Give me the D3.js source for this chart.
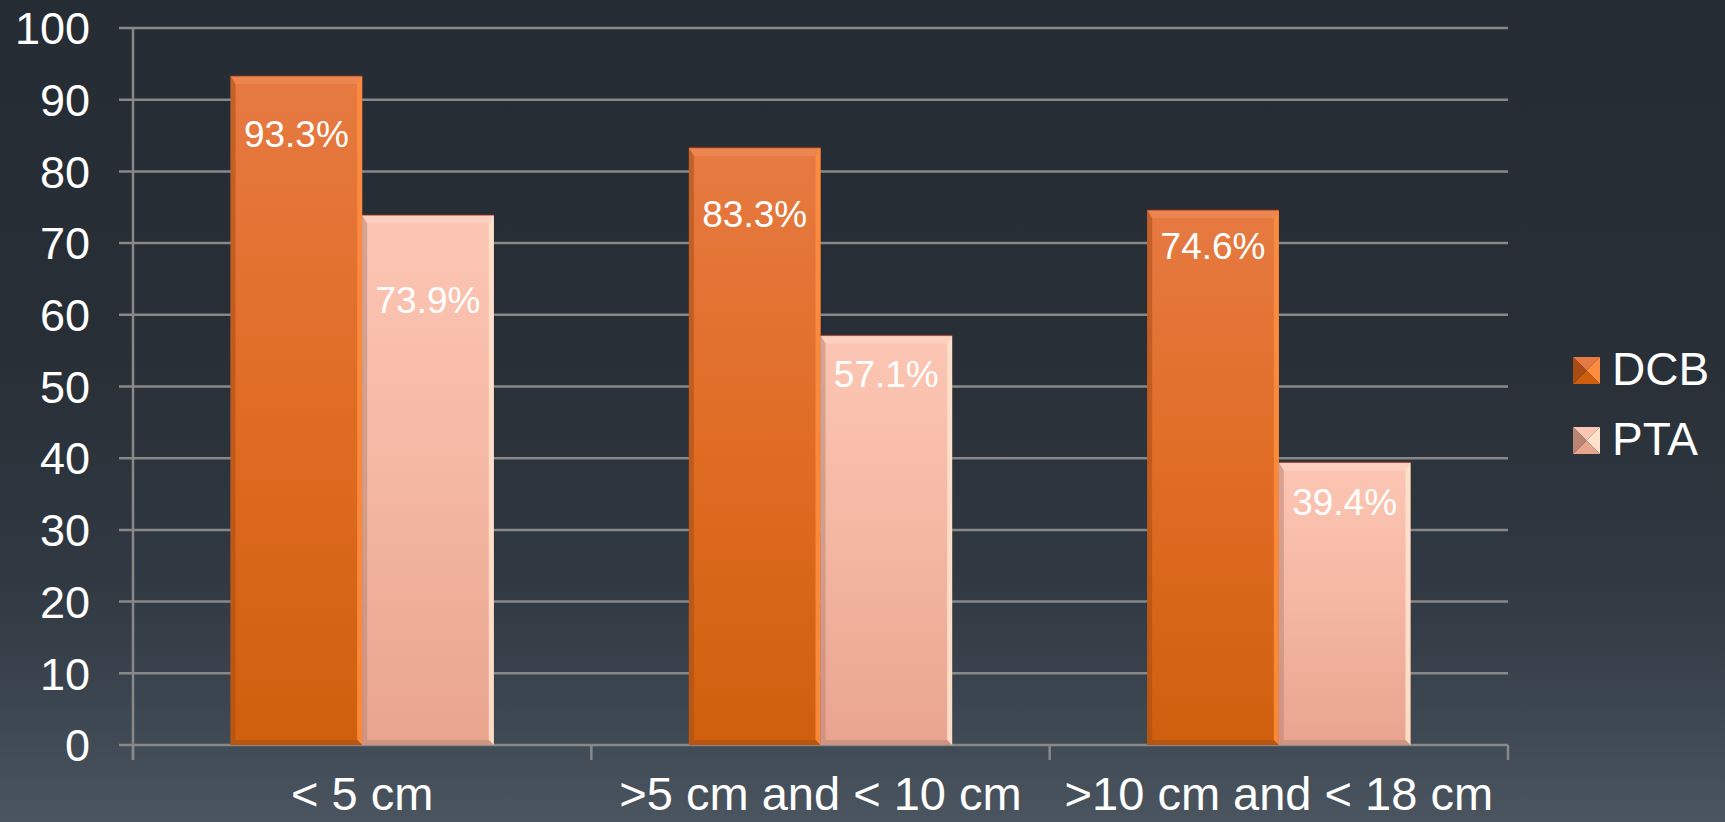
<!DOCTYPE html>
<html>
<head>
<meta charset="utf-8">
<script src="https://cdn.jsdelivr.net/npm/d3@7/dist/d3.min.js"></script>
<style>
  html, body { margin: 0; padding: 0; background: #262c34; }
  svg { display: block; }
  text { font-family: "Liberation Sans", Arial, sans-serif; fill: #ffffff; }
</style>
</head>
<body>
<svg id="chart" width="1725" height="822"></svg>
<script>
// ---- data ----
const categories = ["< 5 cm", ">5 cm and < 10 cm", ">10 cm and < 18 cm"];
const seriesNames = ["DCB", "PTA"];
const dcbValues = [93.3, 83.3, 74.6];
const ptaValues = [73.9, 57.1, 39.4];
const yTicks = [0, 10, 20, 30, 40, 50, 60, 70, 80, 90, 100];

// ---- layout ----
const W = 1725, H = 822;
const plot = { left: 133, right: 1508, top: 28, bottom: 745 };
// distance from bar top to label baseline, per series then category
const labelDrop = { DCB: [71, 79, 49], PTA: [98, 51, 52] };

const palette = {
  DCB: { top: "#e67a42", mid: "#e06c24", bottom: "#cf5f0c", light: "#ff8d3e", dark: "#a84c16", cap: "#ee8a55" },
  PTA: { top: "#fcc6b4", mid: "#f4b7a2", bottom: "#e9a48e", light: "#ffe2cc", dark: "#b98676", cap: "#fdd2c2" }
};

const rows = categories.map((c, i) => ({
  category: c,
  values: [
    { series: "DCB", value: dcbValues[i], idx: i },
    { series: "PTA", value: ptaValues[i], idx: i }
  ]
}));

const svg = d3.select("#chart");
const defs = svg.append("defs");

// background wash
const bg = defs.append("linearGradient").attr("id", "bg").attr("x1", 0).attr("y1", 0).attr("x2", 0).attr("y2", 1);
[[0, "#262c34"], [0.4, "#272e36"], [0.7, "#303841"], [0.88, "#3e4852"], [1, "#4b5560"]]
  .forEach(([o, c]) => bg.append("stop").attr("offset", o).attr("stop-color", c));
svg.append("rect").attr("width", W).attr("height", H).attr("fill", "url(#bg)");

// bar fills
seriesNames.forEach(s => {
  const p = palette[s];
  const g = defs.append("linearGradient").attr("id", "fill-" + s).attr("x1", 0).attr("y1", 0).attr("x2", 0).attr("y2", 1);
  g.append("stop").attr("offset", 0).attr("stop-color", p.top);
  g.append("stop").attr("offset", 0.5).attr("stop-color", p.mid);
  g.append("stop").attr("offset", 1).attr("stop-color", p.bottom);
});

// ---- scales ----
const x0 = d3.scaleBand().domain(categories).range([plot.left, plot.right]).padding(0);
const x1 = d3.scaleBand().domain(seriesNames).range([0, x0.bandwidth()]).paddingInner(0).paddingOuter(0.741);
const y = d3.scaleLinear().domain([0, 100]).range([plot.bottom, plot.top]);

const lineColor = "#888888";
const lineW = 2.5;

// gridlines + y ticks
const grid = svg.append("g");
grid.selectAll("line").data(yTicks).join("line")
  .attr("x1", plot.left - 14).attr("x2", plot.right)
  .attr("y1", d => y(d)).attr("y2", d => y(d))
  .attr("stroke", lineColor).attr("stroke-width", lineW);

svg.append("g").selectAll("text").data(yTicks).join("text")
  .attr("x", 90).attr("y", d => y(d)).attr("dy", "0.36em")
  .attr("text-anchor", "end").style("font-size", "45px")
  .text(d => d);

// y axis line (runs down to tick depth)
svg.append("line")
  .attr("x1", plot.left).attr("x2", plot.left)
  .attr("y1", plot.top).attr("y2", plot.bottom + 15)
  .attr("stroke", lineColor).attr("stroke-width", lineW);

// x category ticks
const xEdges = categories.map(c => x0(c)).concat([x0(categories[categories.length - 1]) + x0.bandwidth()]);
svg.append("g").selectAll("line").data(xEdges).join("line")
  .attr("x1", d => d).attr("x2", d => d)
  .attr("y1", plot.bottom).attr("y2", plot.bottom + 15)
  .attr("stroke", lineColor).attr("stroke-width", lineW);

// ---- bars ----
const groups = svg.append("g").selectAll("g").data(rows).join("g")
  .attr("transform", d => `translate(${x0(d.category)},0)`);

const bars = groups.selectAll("g.bar").data(d => d.values).join("g").attr("class", "bar");

bars.each(function (d) {
  const g = d3.select(this);
  const p = palette[d.series];
  const bx = x1(d.series), bw = x1.bandwidth();
  const top = y(d.value), h = y(0) - top;
  const e = 5;
  g.append("rect").attr("x", bx).attr("y", top).attr("width", bw).attr("height", h).attr("fill", `url(#fill-${d.series})`);
  // top cap
  g.append("path")
    .attr("d", `M${bx},${top} L${bx + bw},${top} L${bx + bw - e},${top + e + 3} L${bx + e},${top + e + 3} Z`)
    .attr("fill", p.cap).attr("opacity", 0.8);
  // right bevel
  g.append("path")
    .attr("d", `M${bx + bw},${top} L${bx + bw},${top + h} L${bx + bw - e},${top + h - e} L${bx + bw - e},${top + e + 3} Z`)
    .attr("fill", p.light).attr("opacity", 0.9);
  // left bevel
  g.append("path")
    .attr("d", `M${bx},${top} L${bx + e},${top + e + 3} L${bx + e},${top + h - e} L${bx},${top + h} Z`)
    .attr("fill", p.dark).attr("opacity", 0.55);
  // bottom bevel
  g.append("path")
    .attr("d", `M${bx},${top + h} L${bx + e},${top + h - e} L${bx + bw - e},${top + h - e} L${bx + bw},${top + h} Z`)
    .attr("fill", p.dark).attr("opacity", 0.55);
  // thin top rim
  g.append("rect").attr("x", bx).attr("y", top - 1).attr("width", bw).attr("height", 1.5)
    .attr("fill", "#8a2a10").attr("opacity", 0.6);
  // value label
  g.append("text")
    .attr("x", bx + bw / 2)
    .attr("y", top + labelDrop[d.series][d.idx])
    .attr("text-anchor", "middle").style("font-size", "37px")
    .text(d.value.toFixed(1) + "%");
});

// category labels
svg.append("g").selectAll("text").data(categories).join("text")
  .attr("x", d => x0(d) + x0.bandwidth() / 2).attr("y", 810)
  .attr("text-anchor", "middle").style("font-size", "47px")
  .text(d => d);

// ---- legend ----
const legend = svg.append("g").selectAll("g").data(seriesNames).join("g")
  .attr("transform", (d, i) => `translate(1573, ${357 + i * 70})`);
const s = 27;
legend.each(function (d) {
  const g = d3.select(this);
  const p = palette[d];
  const c = s / 2;
  g.append("path").attr("d", `M0,0 L${s},0 L${c},${c} Z`).attr("fill", p.top);
  g.append("path").attr("d", `M${s},0 L${s},${s} L${c},${c} Z`).attr("fill", p.light);
  g.append("path").attr("d", `M0,${s} L${s},${s} L${c},${c} Z`).attr("fill", p.bottom);
  g.append("path").attr("d", `M0,0 L0,${s} L${c},${c} Z`).attr("fill", p.dark);
  g.append("text").attr("x", 39).attr("y", 28).style("font-size", "46px").text(d);
});
</script>
</body>
</html>
